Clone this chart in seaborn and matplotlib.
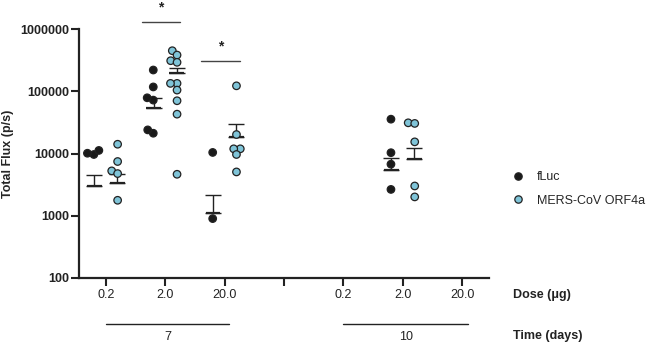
import numpy as np
import pandas as pd
import matplotlib
matplotlib.use('Agg')
import matplotlib.pyplot as plt
import matplotlib.transforms as mtrans
from matplotlib.lines import Line2D
import seaborn as sns

# ---------------- data ----------------
categories = ['7|0.2', '7|2.0', '7|20.0', 'gap', '10|0.2', '10|2.0', '10|20.0']
dose_labels = ['0.2', '2.0', '20.0', '', '0.2', '2.0', '20.0']
series = ['fLuc', 'MERS-CoV ORF4a']
colors = ['#1a1a1a', '#7fc4d8']

fluc_d7_02 = [9640, 11200, 10100]
fluc_d7_2 = [221000, 118000, 72400, 78900, 21200, 24000]
fluc_d7_20 = [10400, 895]
fluc_d10_2 = [35700, 10300, 6730, 2640]

mers_d7_02 = [14100, 7430, 5250, 4750, 1765]
mers_d7_2 = [452000, 385000, 312000, 294000, 134600, 134600, 105000, 70700, 43000, 4630]
mers_d7_20 = [123000, 20200, 11900, 11900, 9640, 5050]
mers_d10_2 = [31200, 30500, 15400, 3000, 2000]

nan = np.nan
fluc_mean = [3000, 53200, 1100, nan, nan, 5520, nan]
fluc_sem = [1580, 24800, 1020, nan, nan, 2830, nan]
mers_mean = [3360, 195000, 18100, nan, nan, 8300, nan]
mers_sem = [1240, 45000, 11600, nan, nan, 4000, nan]

y_ticks = [100, 1000, 10000, 100000, 1000000]
y_tick_labels = ['100', '1000', '10000', '100000', '1000000']

# significance brackets: (x start, x end, y level)
sig_x0 = [0.605, 1.60]
sig_x1 = [1.25, 2.26]
sig_y = [1.31e6, 3.12e5]

time_labels = ['7', '10']
time_x0 = [0.0, 4.0]
time_x1 = [2.08, 6.10]

# ---------------- long table ----------------
rows = []
for cat, vals in zip(['7|0.2', '7|2.0', '7|20.0', '10|2.0'],
                     [fluc_d7_02, fluc_d7_2, fluc_d7_20, fluc_d10_2]):
    rows += [(cat, series[0], v) for v in vals]
for cat, vals in zip(['7|0.2', '7|2.0', '7|20.0', '10|2.0'],
                     [mers_d7_02, mers_d7_2, mers_d7_20, mers_d10_2]):
    rows += [(cat, series[1], v) for v in vals]
df = pd.DataFrame(rows, columns=['cond', 'construct', 'flux'])

# ---------------- style ----------------
sns.set_style('ticks')
plt.rcParams['font.family'] = ['Liberation Sans', 'DejaVu Sans']
ink = '#222222'

fig = plt.figure(figsize=(6.57, 3.45), dpi=100)
ax = fig.add_axes([79 / 657, 1 - 277.7 / 345, 410 / 657, 248.4 / 345])
ax.set_yscale('log')

# mean + SEM (drawn beneath points)
off = 0.195
for means, sems, sgn in [(fluc_mean, fluc_sem, -1), (mers_mean, mers_sem, 1)]:
    for i, (m, s) in enumerate(zip(means, sems)):
        if np.isnan(m):
            continue
        x = i + sgn * off
        ax.hlines(m, x - 0.125, x + 0.125, color=ink, lw=1.6, zorder=1)
        ax.errorbar(x, m, yerr=[[0], [s]], color=ink, lw=1.0, capsize=5.5,
                    capthick=1.0, zorder=1)

n_before = len(ax.collections)
sns.swarmplot(data=df, x='cond', y='flux', hue='construct', order=categories,
              hue_order=series, palette=dict(zip(series, colors)), dodge=True,
              size=3.6, edgecolor=ink, linewidth=0.9, legend=False, ax=ax,
              zorder=3)

ax.set_xlim(-0.45, 6.45)
ax.set_ylim(100, 1e6)
ax.set_yticks(y_ticks)
ax.set_yticklabels(y_tick_labels, fontweight='bold', fontsize=9)
ax.yaxis.set_minor_locator(matplotlib.ticker.NullLocator())
ax.set_xticks(range(len(categories)))
ax.set_xticklabels(dose_labels, fontsize=9)
ax.set_xlabel('')
ax.set_ylabel('Total Flux (p/s)', fontweight='bold', fontsize=9)
ax.yaxis.set_label_coords(-0.158, 0.5)

sns.despine(ax=ax)
for sp in ['left', 'bottom']:
    ax.spines[sp].set_linewidth(1.6)
    ax.spines[sp].set_color(ink)
ax.tick_params(axis='both', length=5.5, width=1.5, color=ink, labelcolor=ink)
ax.tick_params(axis='y', pad=1.5)
ax.tick_params(axis='x', pad=2.5)

# significance
for x0, x1, yv in zip(sig_x0, sig_x1, sig_y):
    ax.plot([x0, x1], [yv, yv], color='#444444', lw=1.0, clip_on=False)
    ax.annotate('*', xy=((x0 + x1) / 2, yv), xytext=(0, 7.5),
                textcoords='offset points', ha='center', va='baseline',
                fontsize=10, fontweight='bold', color=ink, annotation_clip=False)

# time grouping
blend = mtrans.blended_transform_factory(ax.transData, ax.transAxes)
for lab, x0, x1 in zip(time_labels, time_x0, time_x1):
    ax.plot([x0, x1], [-0.186, -0.186], color=ink, lw=1.0, transform=blend,
            clip_on=False)
    ax.text((x0 + x1) / 2, -0.238, lab, transform=blend, ha='center',
            va='center', fontsize=9, color=ink)

fig.text(513 / 657, 1 - 295 / 345, 'Dose (μg)', fontsize=9, fontweight='bold',
         va='center', ha='left', color=ink)
fig.text(513 / 657, 1 - 336 / 345, 'Time (days)', fontsize=9, fontweight='bold',
         va='center', ha='left', color=ink)

# legend
handles = [Line2D([0], [0], marker='o', ls='none', markersize=5.3,
                  markerfacecolor=c, markeredgecolor=ink, markeredgewidth=0.9)
           for c in colors]
ax.legend(handles, series, loc='center left', bbox_to_anchor=(511.75 / 657, 1 - 189 / 345),
          bbox_transform=fig.transFigure, frameon=False, fontsize=9,
          handlelength=1.0, handletextpad=1.0, labelspacing=0.9,
          borderpad=0, borderaxespad=0)

# let seaborn lay out the (slightly overlapping) swarm, then show full-size dots
fig.canvas.draw()
for coll in ax.collections[n_before:]:
    if 'draw' in coll.__dict__:
        del coll.__dict__['draw']
    coll.set_sizes([5.4 ** 2])

fig.savefig('out.png', dpi=100)
